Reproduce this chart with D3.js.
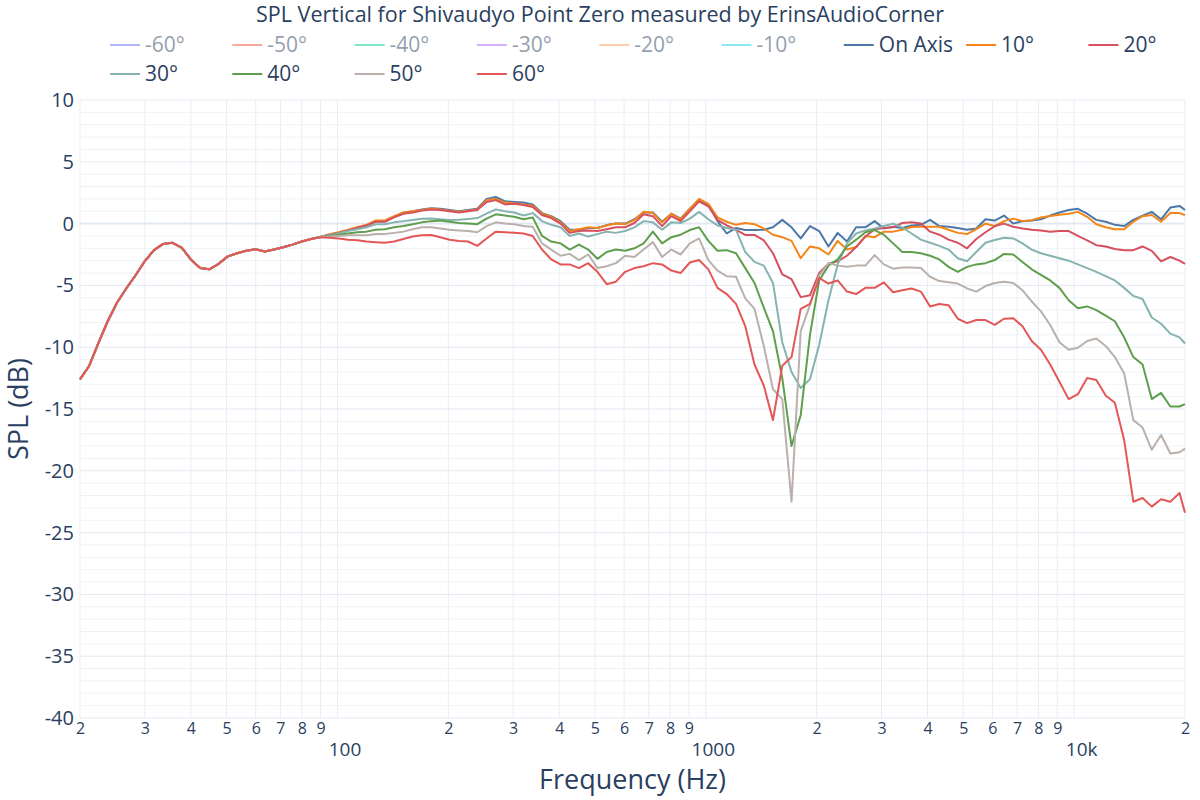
<!DOCTYPE html>
<html><head><meta charset="utf-8">
<script src="https://cdn.jsdelivr.net/npm/d3@7"></script>
<style>body{margin:0;background:#fff;} svg{font-family:"Open Sans",verdana,arial,sans-serif;}</style>
</head><body><svg id="chart" width="1200" height="800"></svg>
<script>
// ---- data ----
const frequencies = [20,21.19,22.45,23.78,25.2,26.7,28.28,29.97,31.75,33.64,35.64,37.76,40,42.38,44.9,47.57,50.4,53.39,56.57,59.93,63.5,67.27,71.27,75.51,80,84.76,89.8,95.14,100.8,106.8,113.1,119.9,127,134.5,142.5,151,160,169.5,179.6,190.3,201.6,213.6,226.3,239.7,254,269.1,285.1,302,320,339,359.2,380.6,403.2,427.1,452.5,479.5,508,538.2,570.2,604.1,640,678,718.4,761.1,806.3,854.3,905.1,958.9,1016,1076,1140,1208,1280,1356,1437,1522,1613,1709,1810,1918,2032,2153,2281,2417,2560,2712,2874,3044,3225,3417,3620,3836,4064,4305,4561,4833,5120,5424,5747,6089,6451,6834,7241,7671,8127,8611,9123,9665,10240,10850,11490,12180,12900,13670,14480,15340,16250,17220,18250,19330,20000];

const onAxis = [-12.6,-11.5,-9.65,-7.9,-6.4,-5.25,-4.2,-3.05,-2.15,-1.64,-1.55,-1.95,-2.9,-3.6,-3.7,-3.25,-2.65,-2.4,-2.2,-2.08,-2.25,-2.1,-1.92,-1.7,-1.45,-1.25,-1.08,
 -0.9,-0.75,-0.55,-0.35,-0.15,0.2,0.2,0.55,0.88,1.0,
 1.15,1.25,1.2,1.1,1.0,1.1,1.2,2.0,2.15,1.8,
 1.75,1.7,1.55,0.85,0.6,0.2,-0.5,-0.5,-0.35,-0.35,
 -0.12,0.0,0.0,0.35,0.9,0.9,0.15,0.8,0.4,1.2,
 1.85,1.55,0.2,-0.8,-0.35,-0.52,-0.52,-0.5,-0.3,0.3,
 -0.3,-1.2,-0.2,-0.6,-1.85,-0.75,-1.45,-0.3,-0.3,0.2,
 -0.4,-0.25,-0.35,-0.15,-0.1,0.3,-0.2,-0.25,-0.35,-0.5,
 -0.4,0.35,0.25,0.65,0.0,0.2,0.25,0.35,0.65,0.9,
 1.1,1.2,0.8,0.3,0.15,-0.1,-0.2,0.3,0.65,0.95,
 0.35,1.3,1.43,1.1];

const deg10 = [-12.6,-11.5,-9.65,-7.9,-6.4,-5.25,-4.2,-3.05,-2.15,-1.64,-1.55,-1.95,-2.9,-3.6,-3.7,-3.25,-2.65,-2.4,-2.2,-2.08,-2.25,-2.1,-1.92,-1.7,-1.45,-1.25,-1.08,
 -0.85,-0.7,-0.5,-0.3,-0.1,0.25,0.25,0.6,0.9,1.0,
 1.1,1.2,1.15,1.05,0.95,1.05,1.15,1.9,2.0,1.7,
 1.65,1.55,1.45,0.8,0.55,0.1,-0.6,-0.45,-0.3,-0.35,
 -0.15,0.0,-0.05,0.3,0.95,0.85,0.1,0.8,0.35,1.2,
 2.0,1.6,0.5,0.15,-0.1,0.05,-0.05,-0.4,-0.9,-1.1,
 -1.4,-2.8,-1.85,-2.0,-2.5,-1.4,-2.1,-1.9,-1.0,-1.1,
 -0.65,-0.65,-0.5,-0.28,-0.25,-0.25,-0.25,-0.5,-0.75,-0.85,
 -0.45,0.0,-0.2,0.2,0.4,0.2,0.28,0.5,0.62,0.72,
 0.8,0.95,0.55,-0.05,-0.3,-0.45,-0.45,0.15,0.6,0.7,
 0.15,0.85,0.85,0.7];

const deg20 = [-12.6,-11.5,-9.65,-7.9,-6.4,-5.25,-4.2,-3.05,-2.15,-1.64,-1.55,-1.95,-2.9,-3.6,-3.7,-3.25,-2.65,-2.4,-2.2,-2.08,-2.25,-2.1,-1.92,-1.7,-1.45,-1.25,-1.08,
 -0.9,-0.75,-0.55,-0.35,-0.15,0.15,0.15,0.5,0.8,0.9,
 1.05,1.15,1.1,1.0,0.9,1.0,1.1,1.75,1.9,1.55,
 1.6,1.5,1.35,0.7,0.45,0.0,-0.75,-0.6,-0.55,-0.6,
 -0.45,-0.3,-0.3,0.05,0.75,0.6,-0.2,0.6,0.2,1.0,
 1.8,1.4,0.3,-0.15,-0.5,-0.92,-0.92,-1.35,-2.4,-4.1,
 -4.5,-5.95,-5.8,-4.0,-3.25,-3.05,-2.6,-1.9,-1.05,-0.45,
 -0.35,-0.3,0.05,0.1,0.0,-0.65,-0.9,-1.3,-1.55,-2.0,
 -1.25,-0.7,-0.2,0.0,-0.25,-0.4,-0.5,-0.55,-0.65,-0.6,
 -0.6,-1.0,-1.35,-1.75,-1.85,-2.05,-2.15,-2.15,-1.85,-2.2,
 -3.05,-2.7,-3.0,-3.25];

const deg30 = [-12.6,-11.5,-9.65,-7.9,-6.4,-5.25,-4.2,-3.05,-2.15,-1.64,-1.55,-1.95,-2.9,-3.6,-3.7,-3.25,-2.65,-2.4,-2.2,-2.08,-2.25,-2.1,-1.92,-1.7,-1.45,-1.25,-1.08,
 -0.95,-0.8,-0.6,-0.45,-0.3,-0.05,-0.05,0.1,0.2,0.3,
 0.4,0.42,0.35,0.3,0.32,0.38,0.45,0.8,1.15,1.0,
 0.9,0.65,0.85,0.2,-0.1,-0.3,-1.0,-0.8,-1.05,-0.85,
 -0.65,-0.75,-0.6,-0.3,0.2,0.1,-0.5,0.1,0.05,0.4,
 0.95,0.35,-0.15,-0.35,-0.5,-2.3,-3.1,-3.4,-4.8,-9.6,
 -12.0,-13.3,-12.6,-9.8,-6.2,-3.3,-1.6,-0.8,-0.55,-0.4,
 -0.2,0.0,-0.3,-0.8,-1.3,-1.55,-1.8,-2.1,-2.8,-3.05,
 -2.3,-1.55,-1.33,-1.15,-1.2,-1.6,-2.1,-2.4,-2.6,-2.8,
 -3.0,-3.3,-3.6,-3.9,-4.25,-4.6,-5.2,-5.85,-6.1,-7.6,
 -8.1,-8.9,-9.2,-9.7];

const deg40 = [-12.6,-11.5,-9.65,-7.9,-6.4,-5.25,-4.2,-3.05,-2.15,-1.64,-1.55,-1.95,-2.9,-3.6,-3.7,-3.25,-2.65,-2.4,-2.2,-2.08,-2.25,-2.1,-1.92,-1.7,-1.45,-1.25,-1.08,
 -1.0,-0.9,-0.8,-0.7,-0.65,-0.5,-0.45,-0.3,-0.2,-0.05,
 0.1,0.2,0.25,0.15,0.05,0.0,-0.05,0.4,0.75,0.65,
 0.55,0.35,0.5,-1.0,-1.45,-1.6,-2.1,-1.7,-2.1,-2.85,
 -2.3,-2.1,-2.2,-2.0,-1.6,-0.65,-1.6,-1.1,-0.9,-0.52,
 -0.3,-1.4,-2.2,-2.15,-2.4,-3.6,-4.8,-6.8,-8.7,-12.5,
 -18.0,-15.5,-9.0,-4.6,-3.4,-2.9,-1.85,-1.3,-0.7,-0.52,
 -0.9,-1.6,-2.3,-2.3,-2.4,-2.6,-2.9,-3.5,-3.9,-3.5,
 -3.3,-3.2,-2.95,-2.45,-2.5,-3.1,-3.7,-4.15,-4.6,-5.2,
 -6.2,-6.85,-6.7,-7.0,-7.45,-7.9,-9.2,-10.8,-11.4,-14.2,
 -13.7,-14.8,-14.8,-14.6];

const deg50 = [-12.6,-11.5,-9.65,-7.9,-6.4,-5.25,-4.2,-3.05,-2.15,-1.64,-1.55,-1.95,-2.9,-3.6,-3.7,-3.25,-2.65,-2.4,-2.2,-2.08,-2.25,-2.1,-1.92,-1.7,-1.45,-1.25,-1.08,
 -1.05,-1.0,-0.95,-0.95,-0.95,-0.85,-0.85,-0.75,-0.65,-0.45,
 -0.3,-0.3,-0.4,-0.5,-0.55,-0.6,-0.7,-0.2,0.1,0.0,
 -0.05,-0.2,-0.25,-1.6,-2.1,-2.6,-2.45,-2.95,-2.5,-3.6,
 -3.45,-3.2,-2.6,-2.7,-2.1,-1.5,-2.7,-2.1,-2.5,-1.6,
 -1.2,-2.95,-3.8,-4.25,-4.3,-6.05,-6.9,-9.9,-13.4,-14.2,
 -22.5,-8.7,-6.6,-4.2,-3.2,-3.4,-3.5,-3.4,-3.4,-2.55,
 -3.3,-3.65,-3.55,-3.55,-3.6,-4.3,-4.65,-4.75,-4.85,-5.25,
 -5.5,-5.05,-4.8,-4.7,-4.8,-5.4,-6.3,-7.1,-8.2,-9.6,
 -10.2,-10.05,-9.5,-9.3,-9.9,-10.8,-12.1,-15.9,-16.5,-18.3,
 -17.1,-18.6,-18.5,-18.2];

const deg60 = [-12.6,-11.5,-9.65,-7.9,-6.4,-5.25,-4.2,-3.05,-2.15,-1.64,-1.55,-1.95,-2.9,-3.6,-3.7,-3.25,-2.65,-2.4,-2.2,-2.08,-2.25,-2.1,-1.92,-1.7,-1.45,-1.25,-1.1,
 -1.15,-1.2,-1.3,-1.35,-1.45,-1.5,-1.55,-1.45,-1.25,-1.05,
 -0.95,-0.92,-1.1,-1.3,-1.4,-1.45,-1.8,-1.2,-0.65,-0.7,
 -0.75,-0.8,-1.0,-2.1,-2.9,-3.3,-3.3,-3.6,-3.2,-3.9,
 -4.9,-4.7,-3.9,-3.6,-3.45,-3.2,-3.3,-3.8,-4.0,-3.15,
 -2.95,-3.7,-5.2,-5.7,-6.5,-8.3,-11.4,-13.1,-15.9,-11.5,
 -10.8,-6.9,-6.5,-4.4,-4.85,-4.6,-5.5,-5.7,-5.2,-5.2,
 -4.75,-5.55,-5.4,-5.25,-5.5,-6.7,-6.5,-6.6,-7.7,-8.05,
 -7.8,-7.8,-8.2,-7.7,-7.66,-8.3,-9.5,-10.2,-11.4,-12.8,
 -14.2,-13.8,-12.5,-12.65,-13.9,-14.5,-17.5,-22.5,-22.2,-22.9,
 -22.3,-22.5,-21.8,-23.4];

const legendNames = ["-60°","-50°","-40°","-30°","-20°","-10°","On Axis","10°","20°","30°","40°","50°","60°"];
const legendColors = ["#636efa","#ef553b","#00cc96","#ab63fa","#ffa15a","#19d3f3","#4c78a8","#f58518","#d6505e","#85b4b0","#5f9e4c","#bab0ac","#e45756"];
const legendVisible = [false,false,false,false,false,false,true,true,true,true,true,true,true];
const visibleSeries = [onAxis, deg10, deg20, deg30, deg40, deg50, deg60];

const yTicks = [10,5,0,-5,-10,-15,-20,-25,-30,-35,-40];
const xMajorTicks = [100,1000,10000];
const xMajorLabels = ["100","1000","10k"];
const titleText = "SPL Vertical for Shivaudyo Point Zero measured by ErinsAudioCorner";

// ---- layout ----
const svg = d3.select("#chart");
const L = 80, R = 1185, T = 100, B = 718;
const textColor = "#2a3f5f";
const x = d3.scaleLog().domain([20, 20000]).range([L, R]);
const y = d3.scaleLinear().domain([-40, 10]).range([B, T]);

const xMinor = [];
[10,100,1000].forEach(d => { for (let m = 2; m <= 9; m++) xMinor.push(m*d); });
xMinor.push(20000);
const xGridVals = xMinor.concat(xMajorTicks).filter(v => v >= 20 && v <= 20000);
const yMinor = d3.range(-40, 10.01, 1);

const grid = svg.append("g");
grid.selectAll("line.ym").data(yMinor).join("line")
  .attr("x1", L).attr("x2", R).attr("y1", d => y(d)).attr("y2", d => y(d))
  .attr("stroke", d => d % 5 === 0 ? "#e3e9f2" : "#eef2f8").attr("stroke-width", 1);
grid.selectAll("line.xg").data(xGridVals).join("line")
  .attr("x1", d => x(d)).attr("x2", d => x(d)).attr("y1", T).attr("y2", B)
  .attr("stroke", "#e8edf5").attr("stroke-width", 1);
grid.append("line").attr("x1", L).attr("x2", R).attr("y1", y(0)).attr("y2", y(0))
  .attr("stroke", "#e3e9f2").attr("stroke-width", 2);

const yAxis = d3.axisLeft(y).tickValues(yTicks).tickSize(0).tickPadding(6).tickFormat(d => String(d));
const gy = svg.append("g").attr("transform", `translate(${L},0)`).call(yAxis);
gy.select(".domain").remove();
gy.selectAll("text").attr("font-size", 20).attr("fill", textColor).attr("font-family", "Open Sans");

const xAxisMinor = d3.axisBottom(x).tickValues(xMinor).tickSize(0).tickPadding(5)
  .tickFormat(d => String(Math.round(d / Math.pow(10, Math.floor(Math.log10(d) + 1e-9)))));
const gxm = svg.append("g").attr("transform", `translate(0,${B})`).call(xAxisMinor);
gxm.select(".domain").remove();
gxm.selectAll("text").attr("font-size", 16).attr("fill", textColor).attr("font-family", "Open Sans");

const xAxisMajor = d3.axisBottom(x).tickValues(xMajorTicks).tickSize(0).tickPadding(25)
  .tickFormat((d, i) => xMajorLabels[i]);
const gxM = svg.append("g").attr("transform", `translate(7,${B})`).call(xAxisMajor);
gxM.select(".domain").remove();
gxM.selectAll("text").attr("font-size", 19).attr("fill", textColor).attr("font-family", "Open Sans");

const line = d3.line().x((d, i) => x(frequencies[i])).y(d => y(d));
const plot = svg.append("g");
visibleSeries.forEach((s, i) => {
  plot.append("path").datum(s).attr("d", line)
    .attr("fill", "none").attr("stroke", legendColors[6 + i]).attr("stroke-width", 2)
    .attr("stroke-linejoin", "round");
});

svg.append("text").attr("x", 600).attr("y", 22).attr("text-anchor", "middle")
  .attr("font-size", 21.5).attr("fill", textColor).text(titleText);

svg.append("text").attr("x", (L + R) / 2).attr("y", 789).attr("text-anchor", "middle")
  .attr("font-size", 27).attr("fill", textColor).text("Frequency (Hz)");
svg.append("text").attr("transform", `translate(28,${(T + B) / 2}) rotate(-90)`)
  .attr("text-anchor", "middle").attr("font-size", 27).attr("fill", textColor).text("SPL (dB)");

const leg = svg.append("g");
legendNames.forEach((name, i) => {
  const row = i < 9 ? 0 : 1;
  const col = i < 9 ? i : i - 9;
  const lx = 110 + 122.3 * col;
  const ly = row === 0 ? 45 : 74;
  const g = leg.append("g").attr("opacity", legendVisible[i] ? 1 : 0.5);
  g.append("line").attr("x1", lx).attr("x2", lx + 30).attr("y1", ly).attr("y2", ly)
    .attr("stroke", legendColors[i]).attr("stroke-width", 2);
  g.append("text").attr("x", lx + 35).attr("y", ly).attr("dy", "0.35em")
    .attr("font-size", 21).attr("fill", textColor).text(name);
});
</script></body></html>
